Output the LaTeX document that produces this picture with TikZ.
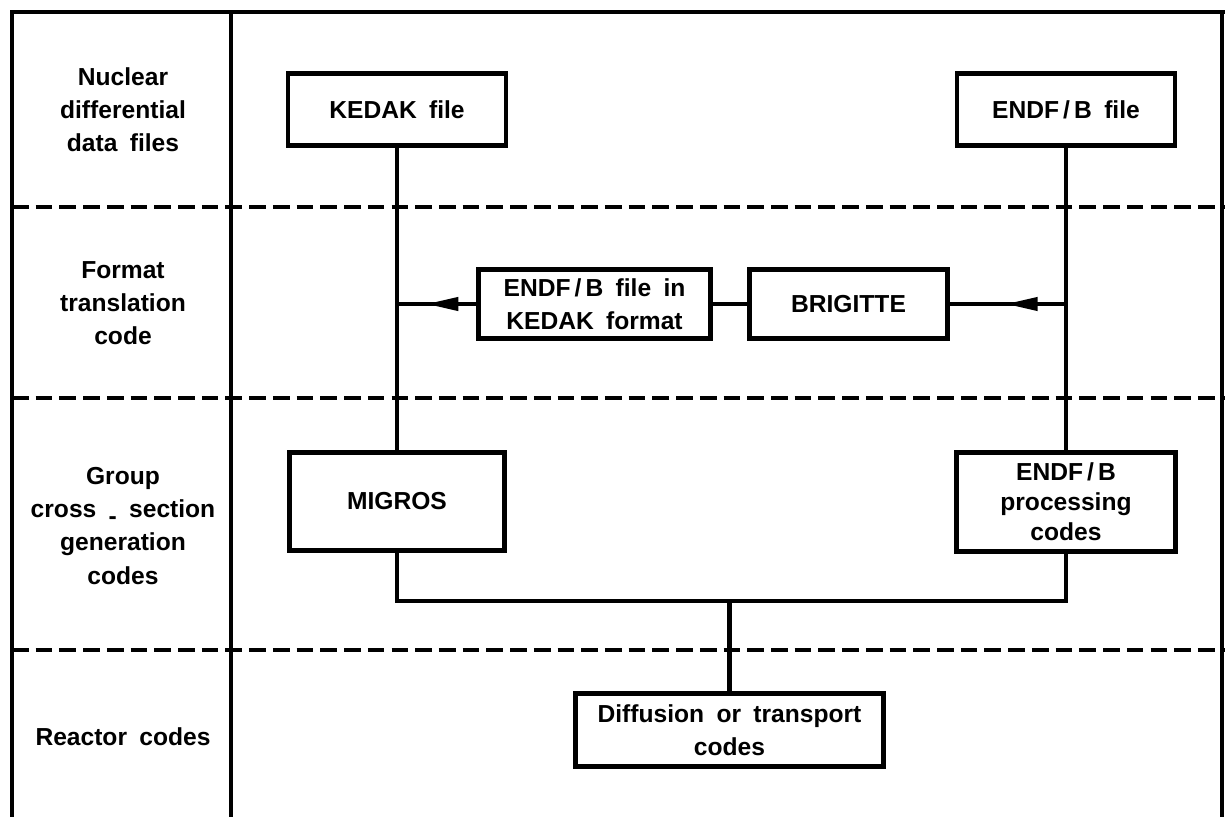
\documentclass[tikz,border=0pt]{standalone}
\usepackage{fontspec}
\setmainfont{Liberation Sans}[WordSpace=1.8]
\usetikzlibrary{arrows.meta,decorations.markings}
\begin{document}
\begin{tikzpicture}[x=0.02cm,y=-0.02cm,
  font=\fontsize{14}{18.8}\selectfont\bfseries,
  box/.style={draw, line width=2.8pt, fill=white, align=center, inner sep=0pt},
  frame/.style={line width=1.8pt},
  sep/.style={line width=2pt, dash pattern=on 9.5pt off 4pt},
  conn/.style={line width=2.3pt},
  arrmid/.style={postaction={decorate}, decoration={markings, mark=at position #1 with {\arrow{Triangle[length=0.64cm,width=0.26cm]}}}},
  lab/.style={align=center, inner sep=0pt}]
\useasboundingbox (0,0) rectangle (1225,817);
% frame
\draw[frame] (12,817) -- (12,12) -- (1225,12);
\draw[frame] (231,12) -- (231,817);
\draw[frame] (1222,12) -- (1222,817);
% row separators
\draw[sep] (12,207) -- (1225,207);
\draw[sep] (12,398) -- (1225,398);
\draw[sep] (12,650) -- (1225,650);
% row labels
\node[lab] (l1) at (123,110) {Nuclear\\differential\\data files};
\node[lab] (l2) at (123,303) {Format\\translation\\code};
\node[lab] (l3) at (123,526) {Group\\cross \raisebox{-0.25em}{-} section\\generation\\codes};
\node[lab] (l4) at (123,737) {Reactor codes};
% boxes
\node[box, minimum width=4.36cm, minimum height=1.44cm] (kedak) at (397,109.5) {KEDAK file};
\node[box, minimum width=4.36cm, minimum height=1.44cm] (endf) at (1066,109.5) {ENDF\,/\,B file};
\node[box, minimum width=4.64cm, minimum height=1.38cm] (e2k) at (594.5,304) {ENDF\,/\,B file in\\KEDAK format};
\node[box, minimum width=3.96cm, minimum height=1.38cm] (brig) at (848.5,304) {BRIGITTE};
\node[box, minimum width=4.3cm, minimum height=1.96cm] (migros) at (397,501.5) {MIGROS};
\node[box, minimum width=4.38cm, minimum height=1.98cm, font=\fontsize{14}{17}\selectfont\bfseries] (proc) at (1066,502) {ENDF\,/\,B\\processing\\codes};
\node[box, minimum width=6.16cm, minimum height=1.46cm] (diff) at (729.5,730) {Diffusion or transport\\codes};
% connectors
\coordinate (jl) at (kedak.south |- e2k.west);
\coordinate (jr) at (endf.south |- brig.east);
\coordinate (bus) at (diff.north |- 0,601);
\draw[conn] (kedak.south) -- (migros.north);
\draw[conn] (endf.south) -- (proc.north);
\draw[conn, arrmid=0.63] (e2k.west) -- (jl);
\draw[conn] (brig.west) -- (e2k.east);
\draw[conn, arrmid=0.52] (jr) -- (brig.east);
\draw[conn] (migros.south) |- (bus) -| (proc.south);
\draw[conn] (bus) -- (diff.north);
\end{tikzpicture}
\end{document}
